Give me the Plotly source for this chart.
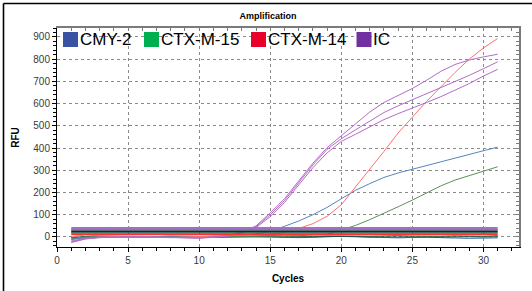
import plotly.graph_objects as go

cycles = list(range(1, 32))

ic_top = [-22, -8, -2, 0, 0, 1, 0, -1, -3, -4, 0, 6, 22, 50, 108, 172, 252, 332, 402, 455, 508, 562, 605, 637, 668, 705, 745, 776, 796, 810, 822]
ic_mid = [-18, -6, -1, 1, 0, 0, -1, -2, -3, -4, -1, 5, 20, 46, 100, 164, 244, 324, 394, 442, 482, 522, 560, 590, 617, 645, 672, 700, 727, 757, 788]
ic_low = [-25, -9, -3, 0, 1, 0, -1, -1, -2, -5, -2, 4, 18, 42, 92, 155, 234, 312, 378, 430, 462, 496, 528, 555, 579, 605, 631, 660, 690, 724, 754]
ctx14 = [0, 10, 5, 2, 0, 0, -2, -3, 0, 2, 3, 3, 5, 8, 12, 20, 38, 60, 93, 145, 225, 302, 385, 468, 540, 610, 675, 740, 800, 850, 893]
cmy2 = [-12, -3, 0, 2, 0, -1, 0, 1, 0, 2, 3, 5, 8, 14, 25, 48, 72, 100, 133, 172, 210, 240, 268, 288, 305, 323, 340, 356, 372, 388, 404]
ctx15 = [-6, 0, 2, 1, 0, 1, 2, 1, 0, 1, 2, 2, 3, 4, 4, 5, 6, 8, 12, 32, 52, 78, 106, 136, 166, 198, 230, 256, 276, 295, 316]
neg_blue = [-8, -3, 0, 2, 1, -1, 0, 2, 1, -2, 0, 2, 3, 2, 0, -2, -3, -1, 2, 3, 1, -1, -3, -4, -2, 0, -3, -5, -6, -5, -4]
neg_green = [-4, 2, 4, 3, 1, 0, 2, 4, 3, 2, 0, 1, 3, 5, 6, 4, 2, 3, 5, 6, 4, 3, 5, 6, 4, 2, 3, 5, 4, 3, 6]
neg_dark = [-2, 1, 2, 1, 0, -1, 0, 1, 2, 1, -1, 0, 2, 3, 1, 0, -1, 0, 2, 3, 2, 0, 1, 2, 0, -1, 0, 2, 1, 0, 1]

thresh_vals = [38, 30, 24.5, 18.5, 11]
thresh_colors = ["#a070c4", "#75808f", "#222222", "#2a6656", "#ff3030"]
thresh_widths = [3, 1.5, 1.8, 1.5, 1.5]

legend_names = ["CMY-2", "CTX-M-15", "CTX-M-14", "IC"]
legend_colors = ["#3a52a2", "#00b050", "#e8002a", "#7030a0"]
legend_px = [63, 144, 251, 356.5]

x_ticks = [0, 5, 10, 15, 20, 25, 30]
y_ticks = [0, 100, 200, 300, 400, 500, 600, 700, 800, 900]

fig = go.Figure()

def add(y, color, w=1.0):
    fig.add_trace(go.Scatter(x=cycles, y=y, mode="lines", line=dict(color=color, width=w),
                             showlegend=False, hoverinfo="skip"))

add(neg_blue, "#3f6fb0")
add(neg_green, "#2f7a3a")
add(neg_dark, "#1f4f48")
add(ctx15, "#5a9159")
add(cmy2, "#5585c0")
add(ctx14, "#ff7070")
add(ic_low, "#b46cc6")
add(ic_mid, "#b46cc6")
add(ic_top, "#b46cc6")

for v, c, w in zip(thresh_vals, thresh_colors, thresh_widths):
    fig.add_trace(go.Scatter(x=[cycles[0], cycles[-1]], y=[v, v], mode="lines",
                             line=dict(color=c, width=w), showlegend=False, hoverinfo="skip"))

# invisible trace for mirrored top/right axes
fig.add_trace(go.Scatter(x=[None], y=[None], xaxis="x2", yaxis="y2", showlegend=False))

L, R, T, B = 57, 13, 28, 44
W, H = 532, 291
pw, ph = W - L - R, H - T - B

def px2paper_x(px):
    return (px - L) / pw

def py2paper_y(py):
    return (H - B - py) / ph

font = "Arial, 'Liberation Sans', sans-serif"

for name, col, px in zip(legend_names, legend_colors, legend_px):
    fig.add_shape(type="rect", xref="paper", yref="paper",
                  x0=px2paper_x(px), x1=px2paper_x(px + 15),
                  y0=py2paper_y(47), y1=py2paper_y(32),
                  fillcolor=col, line=dict(width=0), layer="above")
    fig.add_annotation(text=name, xref="paper", yref="paper",
                       x=px2paper_x(px + 14.5), y=py2paper_y(39.5),
                       xanchor="left", yanchor="middle", showarrow=False,
                       font=dict(family=font, size=17, color="#000"))

# outer frame (top and left)
fig.add_shape(type="line", xref="paper", yref="paper",
              x0=px2paper_x(3.5), x1=px2paper_x(540), y0=py2paper_y(3.5), y1=py2paper_y(3.5),
              line=dict(color="#000", width=1.6))
fig.add_shape(type="line", xref="paper", yref="paper",
              x0=px2paper_x(3.5), x1=px2paper_x(3.5), y0=py2paper_y(300), y1=py2paper_y(3.5),
              line=dict(color="#000", width=1.6))

xr = [0, 32.5]
yr = [-45, 940]

fig.update_layout(
    width=W, height=H,
    margin=dict(l=L, r=R, t=T, b=B, pad=0, autoexpand=False),
    paper_bgcolor="white", plot_bgcolor="white",
    font=dict(family=font, color="#3a3a3a", size=10),
    title=dict(text="<b>Amplification</b>", x=268 / W, y=1 - 15.5 / H, xanchor="center",
               yanchor="middle", xref="container", yref="container",
               font=dict(size=9, color="#000", family=font)),
    xaxis=dict(range=xr, tickvals=x_ticks, showgrid=True, gridcolor="#8a8a8a", griddash="dot",
               gridwidth=1, zeroline=False, showline=True, linecolor="#000", linewidth=1,
               ticks="outside", ticklen=4, tickcolor="#000", automargin=False,
               minor=dict(dtick=1, ticks="outside", ticklen=3, tickcolor="#000", showgrid=False),
               tickfont=dict(size=10, color="#3a3a3a"),
               title=dict(text="<b>Cycles</b>", font=dict(size=10, color="#000"), standoff=9)),
    yaxis=dict(range=yr, tickvals=y_ticks, showgrid=True, gridcolor="#8a8a8a", griddash="dot",
               gridwidth=1, zeroline=False, showline=True, linecolor="#000", linewidth=1,
               ticks="outside", ticklen=4, tickcolor="#000", automargin=False,
               minor=dict(dtick=20, tick0=0, ticks="outside", ticklen=3, tickcolor="#000", showgrid=False),
               tickfont=dict(size=10, color="#3a3a3a"),
               title=dict(text="<b>RFU</b>", font=dict(size=10, color="#000"), standoff=11)),
    xaxis2=dict(range=xr, overlaying="x", side="top", anchor="y", showline=True, automargin=False,
                linecolor="#7a7a7a", linewidth=2, ticks="inside", ticklen=3, dtick=1, tick0=0,
                tickcolor="#7a7a7a", showticklabels=False, showgrid=False, zeroline=False),
    yaxis2=dict(range=yr, overlaying="y", side="right", anchor="x", showline=True, automargin=False,
                linecolor="#7a7a7a", linewidth=2, ticks="inside", ticklen=3, dtick=20, tick0=0,
                tickcolor="#7a7a7a", showticklabels=False, showgrid=False, zeroline=False),
    showlegend=False,
)

fig.write_html("out.html", config={"displayModeBar": False},
               post_script="document.body.style.margin='0';document.body.style.padding='0';")
